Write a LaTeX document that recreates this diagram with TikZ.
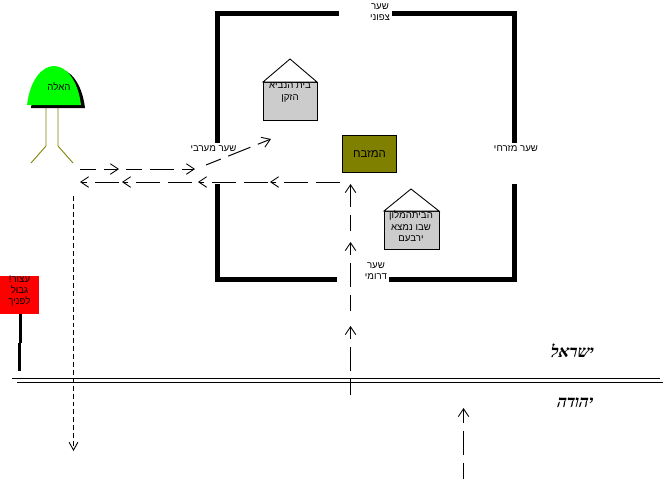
\documentclass[tikz,border=0pt]{standalone}
\usepackage{fontspec}
\setmainfont{Liberation Sans}
\newfontfamily\hebfont[Script=Hebrew]{Liberation Sans}
\newfontfamily\hebbold[Script=Hebrew, FakeSlant=0.25, UprightFont=* Bold]{Liberation Serif}
\TeXXeTstate=1
\usetikzlibrary{arrows.meta, positioning}
\newcommand{\heb}[1]{\beginR #1\endR}
\definecolor{olivebox}{HTML}{808000}
\definecolor{greybox}{HTML}{CCCCCC}
\begin{document}
\begin{tikzpicture}[
    x=0.02cm, y=-0.02cm,
    font=\hebfont\fontsize{5.5}{6.6}\selectfont,
    wall/.style={fill=black, draw=none},
    label/.style={inner sep=0pt, align=center, text=black},
    houseBody/.style={draw=black, fill=greybox, line width=0.5pt},
    leg/.style={draw=olivebox, line width=0.5pt},
    route/.style={draw=black, line width=0.55pt, -{Straight Barb[length=4.5pt, width=6pt, line width=0.5pt]}, dash pattern=on 9.07pt off 4.54pt on 13.6pt off 4.54pt},
    retour/.style={route, dash pattern=on 13.6pt off 4.54pt},
    border/.style={draw=black, line width=0.55pt},
    land/.style={inner sep=0pt, font=\hebbold\fontsize{9.5}{10}\selectfont}
]
    \useasboundingbox (0,0) rectangle (666,480);
    % Walls of the court
    \fill [wall] (215,11) rectangle (339,16);
    \fill [wall] (392,11) rectangle (517,16);
    \fill [wall] (215,11) rectangle (220,143);
    \fill [wall] (215,184) rectangle (220,282);
    \fill [wall] (512,11) rectangle (517,143);
    \fill [wall] (512,184) rectangle (517,282);
    \fill [wall] (215,277) rectangle (337,282);
    \fill [wall] (389,277) rectangle (517,282);

    % Gate labels
    \node [label] (gateN) at (380,12) {\heb{שער}\\\heb{צפוני}};
    \node [label] (gateW) at (213.5,149) {\heb{שער מערבי}};
    \node [label] (gateE) at (516,149) {\heb{שער מזרחי}};
    \node [label] (gateS) at (376,271) {\heb{שער}\\\heb{דרומי}};

    % Oak and its trunk
    \fill [black] (31,108) .. controls (34,80) and (46,69) .. (58,69) .. controls (70,69) and (82,83) .. (85,108) -- cycle;
    \fill [green] (27,105) .. controls (30,80) and (42,66) .. (54,66) .. controls (66,66) and (78,80) .. (81,105) -- cycle;
    \node [label] (oak) at (59,87) {\heb{האלה}};
    \draw [leg] (46,108) -- (46,146) -- (31,163);
    \draw [leg] (58,108) -- (58,146) -- (73,163);

    % Houses
    \draw [houseBody] (263,82) rectangle (317,120);
    \draw [draw=black, fill=white, line width=0.5pt] (263,82) -- (290,59) -- (317,82) -- cycle;
    \node [label] (prophet) at (290,92.5) {\heb{בית הנביא}\\\heb{הזקן}};
    \draw [houseBody] (384,211) rectangle (439,249);
    \draw [draw=black, fill=white, line width=0.5pt] (384,211) -- (411,189) -- (439,211) -- cycle;
    \node [label] (hotel) at (411,226.5) {\heb{הביתהמלון}\\\heb{שבו נמצא}\\\heb{ירבעם}};

    % Altar
    \node [draw=black, fill=olivebox, minimum width=31pt, minimum height=21.5pt, inner sep=0pt, line width=0.5pt, font=\hebfont\fontsize{6.5}{8}\selectfont] (altar) at (369.5,154) {\heb{המזבח}};

    % Warning sign
    \fill [black] (19,314) rectangle (22,343);
    \fill [black] (18,343) rectangle (21,371);
    \fill [red] (0,276) rectangle (39,314);
    \node [label, font=\hebfont\fontsize{5.5}{6.2}\selectfont] (sign) at (19.5,291) {\heb{עצור!}\\\heb{גבול}\\\heb{לפניך}};

    % Border
    \draw [border] (12,378.5) -- (660,378.5);
    \draw [border] (17,382.5) -- (663,382.5);
    \node [land] (israel) at (571,351) {\heb{ישראל}};
    \node [land] (judah) at (574,403) {\heb{יהודה}};

    % Routes
    \coordinate (goA) at (80,169);
    \coordinate (goB) at (119,169);
    \coordinate (goC) at (126,169);
    \coordinate (goD) at (195,169);
    \coordinate (goE) at (206,165);
    \coordinate (goF) at (271,139);
    \draw [route] (goA) -- (goB);
    \draw [route] (goC) -- (goD);
    \draw [route] (goE) -- (goF);
    \foreach \a/\b in {340/270, 268/198, 192/122, 119/80} {
        \coordinate (backA) at (\a,182);
        \coordinate (backB) at (\b,182);
        \draw [retour] (backA) -- (backB);
    }
    \coordinate (upA) at (350.5,395);
    \coordinate (upB) at (350.5,326);
    \coordinate (upC) at (350.5,311);
    \coordinate (upD) at (350.5,242);
    \coordinate (upE) at (350.5,231);
    \coordinate (upF) at (350.5,184);
    \draw [route] (upA) -- (upB);
    \draw [route] (upC) -- (upD);
    \draw [route] (upE) -- (upF);
    \coordinate (juA) at (463.5,479);
    \coordinate (juB) at (463.5,408);
    \draw [route] (juA) -- (juB);
    \coordinate (exitA) at (73.5,196);
    \coordinate (exitB) at (73.5,451);
    \draw [draw=black, line width=0.55pt, dash pattern=on 2.8pt off 1.7pt, -{Straight Barb[length=4.5pt, width=5pt, line width=0.5pt]}] (exitA) -- (exitB);
\end{tikzpicture}
\end{document}
